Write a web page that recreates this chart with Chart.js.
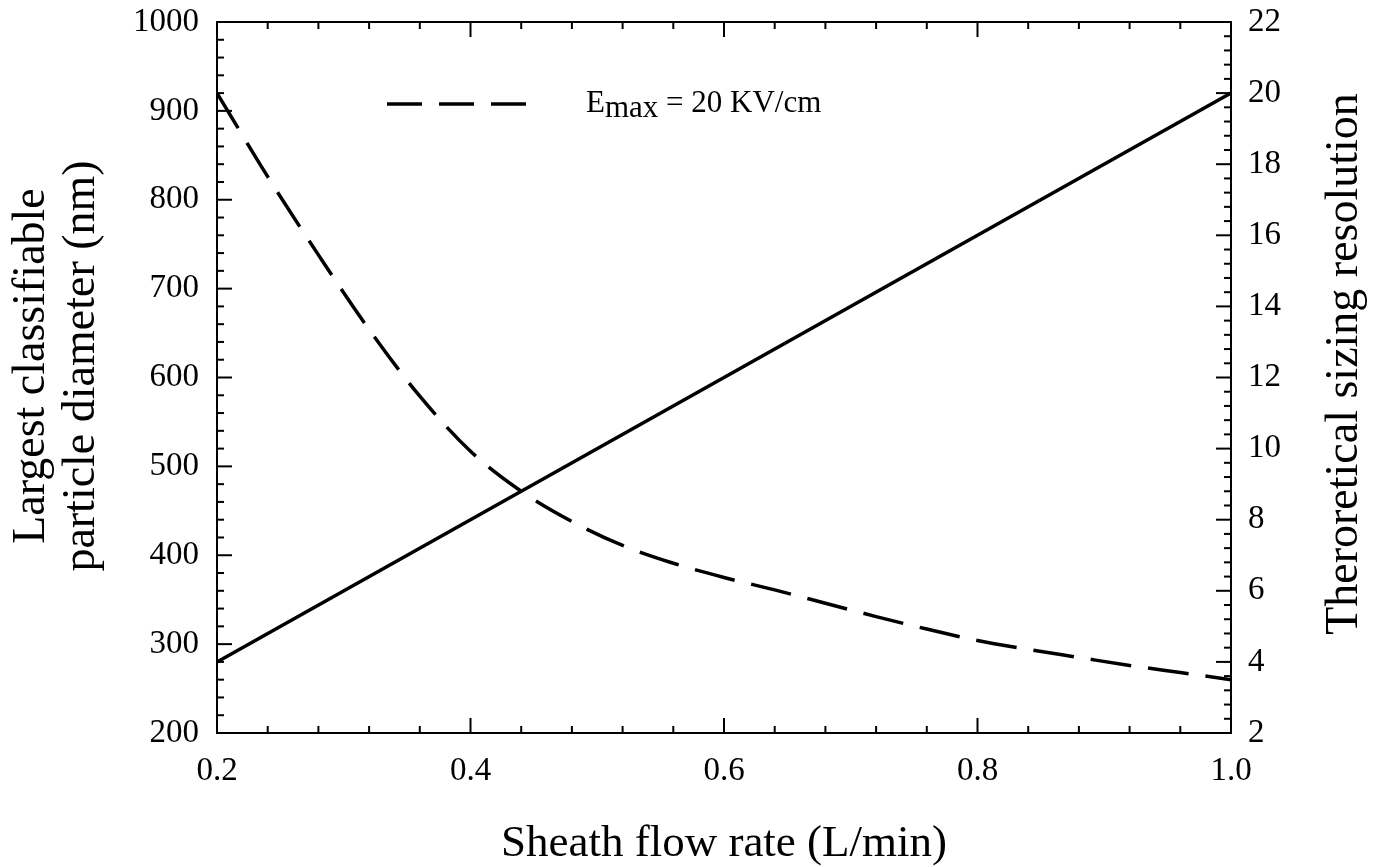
<!DOCTYPE html>
<html>
<head>
<meta charset="utf-8">
<title>Sheath flow rate chart</title>
<script src="https://cdn.jsdelivr.net/npm/chart.js@4.4.1/dist/chart.umd.min.js"></script>
<style>
  html, body { margin: 0; padding: 0; background: #fff; }
  canvas { display: block; }
</style>
</head>
<body>
<canvas id="flowChart" width="1374" height="867"></canvas>
<script>
// sheath flow rate (L/min)
var flowRate = [0.20, 0.24, 0.28, 0.32, 0.36, 0.40, 0.44, 0.48, 0.52, 0.56, 0.60,
                0.64, 0.68, 0.72, 0.76, 0.80, 0.84, 0.88, 0.92, 0.96, 1.00];
// largest classifiable particle diameter (nm), dashed curve, left axis
var diameterNm = [920, 826, 738, 654, 579, 517, 472, 438, 411, 391, 375,
                  361, 346, 331, 317, 304, 294, 285, 276, 268, 260];
// theoretical sizing resolution, solid line, right axis
var resFlow = [0.2, 1.0];
var resolution = [4, 20];

var xTicks = [0.2, 0.4, 0.6, 0.8, 1.0];
var leftTicks = [200, 300, 400, 500, 600, 700, 800, 900, 1000];
var rightTicks = [2, 4, 6, 8, 10, 12, 14, 16, 18, 20, 22];

var serif = "'Liberation Serif', 'Times New Roman', serif";

function pts(xs, ys) {
  return xs.map(function(x, i) { return { x: x, y: ys[i] }; });
}

// inward tick marks on all four sides
var tickMarks = {
  id: 'tickMarks',
  afterDraw: function(chart) {
    var ctx = chart.ctx;
    var a = chart.chartArea;
    ctx.save();
    ctx.strokeStyle = '#000';
    ctx.lineWidth = 2;
    function doTicks(scale, min, step, count, vertical, edge, dir) {
      for (var i = 0; i <= count; i++) {
        var p = scale.getPixelForValue(min + i * step);
        var len = (i % 5 === 0) ? 15 : 7;
        ctx.beginPath();
        if (vertical) {
          ctx.moveTo(edge, p);
          ctx.lineTo(edge + dir * len, p);
        } else {
          ctx.moveTo(p, edge);
          ctx.lineTo(p, edge + dir * len);
        }
        ctx.stroke();
      }
    }
    var s = chart.scales;
    doTicks(s.x, 0.2, 0.04, 20, false, a.bottom, -1);
    doTicks(s.x2, 0.2, 0.04, 20, false, a.top, 1);
    doTicks(s.y, 200, 20, 40, true, a.left, 1);
    doTicks(s.y1, 2, 0.4, 50, true, a.right, -1);
    ctx.restore();
  }
};

// axis titles and the legend with subscript
var titlesAndLegend = {
  id: 'titlesAndLegend',
  afterDraw: function(chart) {
    var ctx = chart.ctx;
    var a = chart.chartArea;
    ctx.save();
    ctx.fillStyle = '#000';
    ctx.textBaseline = 'alphabetic';

    ctx.font = '45px ' + serif;
    ctx.textAlign = 'center';
    ctx.fillText('Sheath flow rate (L/min)', (a.left + a.right) / 2, 856);

    ctx.font = '46px ' + serif;
    ctx.save();
    ctx.translate(44, 366);
    ctx.rotate(-Math.PI / 2);
    ctx.fillText('Largest classifiable', 0, 0);
    ctx.restore();
    ctx.save();
    ctx.translate(94, 366);
    ctx.rotate(-Math.PI / 2);
    ctx.fillText('particle diameter (nm)', 0, 0);
    ctx.restore();

    ctx.save();
    ctx.translate(1357, 364);
    ctx.rotate(-Math.PI / 2);
    ctx.fillText('Theroretical sizing resolution', 0, 0);
    ctx.restore();

    // legend
    ctx.strokeStyle = '#000';
    ctx.lineWidth = 3.5;
    ctx.setLineDash([35, 17]);
    ctx.beginPath();
    ctx.moveTo(387, 104);
    ctx.lineTo(530, 104);
    ctx.stroke();
    ctx.setLineDash([]);

    ctx.textAlign = 'left';
    ctx.font = '31px ' + serif;
    var x = 586;
    ctx.fillText('E', x, 112);
    x += ctx.measureText('E').width;
    ctx.fillText('max', x, 117);
    x += ctx.measureText('max').width;
    ctx.fillText(' = 20 KV/cm', x, 112);
    ctx.restore();
  }
};

var tickFont = { family: serif, size: 33 };
var borderOpts = { display: true, color: '#000', width: 2 };

function noPad(s) {
  s.paddingTop = 0;
  s.paddingBottom = 0;
  s.paddingLeft = 0;
  s.paddingRight = 0;
}

new Chart(document.getElementById('flowChart'), {
  type: 'line',
  data: {
    datasets: [{
      label: 'Emax = 20 KV/cm',
      data: pts(flowRate, diameterNm),
      xAxisID: 'x',
      yAxisID: 'y',
      borderColor: '#000',
      borderWidth: 3.5,
      borderDash: [41, 17],
      pointRadius: 0,
      cubicInterpolationMode: 'monotone',
      fill: false
    }, {
      label: 'Resolution',
      data: pts(resFlow, resolution),
      xAxisID: 'x',
      yAxisID: 'y1',
      borderColor: '#000',
      borderWidth: 3.5,
      pointRadius: 0,
      fill: false
    }]
  },
  options: {
    responsive: false,
    animation: false,
    devicePixelRatio: 1,
    layout: { padding: 0 },
    plugins: { legend: { display: false }, tooltip: { enabled: false } },
    scales: {
      x: {
        type: 'linear', position: 'bottom', min: 0.2, max: 1.0,
        afterBuildTicks: function(s) { s.ticks = xTicks.map(function(v) { return { value: v }; }); },
        ticks: { color: '#000', font: tickFont, padding: 11, maxRotation: 0, autoSkip: false,
                 callback: function(v) { return Number(v).toFixed(1); } },
        grid: { display: false },
        border: borderOpts,
        afterFit: function(s) { s.height = 134; noPad(s); }
      },
      x2: {
        type: 'linear', position: 'top', min: 0.2, max: 1.0,
        ticks: { display: false },
        grid: { display: false },
        border: borderOpts,
        afterFit: function(s) { s.height = 22; noPad(s); }
      },
      y: {
        type: 'linear', position: 'left', min: 200, max: 1000,
        afterBuildTicks: function(s) { s.ticks = leftTicks.map(function(v) { return { value: v }; }); },
        ticks: { color: '#000', font: tickFont, padding: 10, autoSkip: false,
                 callback: function(v) { return String(v); } },
        grid: { display: false },
        border: borderOpts,
        afterFit: function(s) { s.width = 217; noPad(s); }
      },
      y1: {
        type: 'linear', position: 'right', min: 2, max: 22,
        afterBuildTicks: function(s) { s.ticks = rightTicks.map(function(v) { return { value: v }; }); },
        ticks: { color: '#000', font: tickFont, padding: 9, autoSkip: false,
                 callback: function(v) { return String(v); } },
        grid: { display: false },
        border: borderOpts,
        afterFit: function(s) { s.width = 143; noPad(s); }
      }
    }
  },
  plugins: [tickMarks, titlesAndLegend]
});
</script>
</body>
</html>
